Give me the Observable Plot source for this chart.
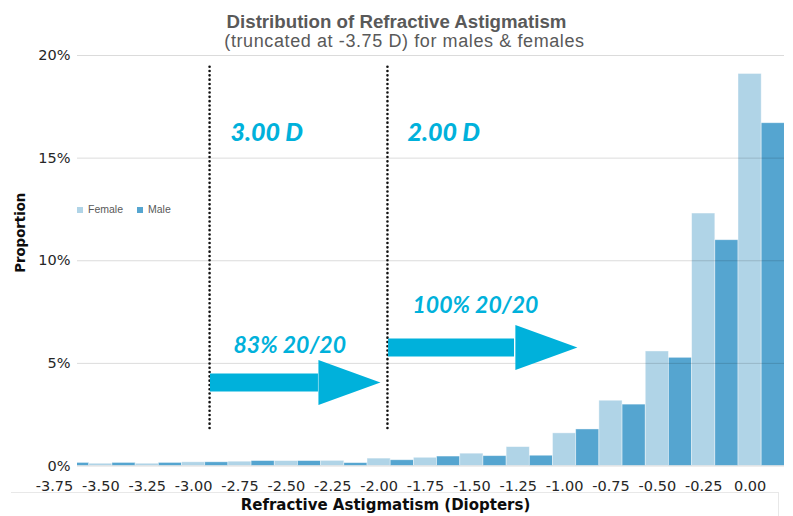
<!DOCTYPE html>
<html>
<head>
<meta charset="utf-8">
<script src="https://cdn.jsdelivr.net/npm/d3@7"></script>
<script src="https://cdn.jsdelivr.net/npm/@observablehq/plot@0.6"></script>
<style>
  body { margin: 0; background: #fff; }
  #wrap { position: relative; width: 793px; height: 516px; overflow: hidden; background: #fff; }
  #title { position: absolute; left: 0; top: 10.5px; width: 793px; text-align: center; line-height: 1;
           font: bold 18.7px "Liberation Sans", Arial, sans-serif; color: #595959; }
  #subtitle { position: absolute; left: 8px; top: 31px; width: 793px; text-align: center; line-height: 1;
           font: 18px "Liberation Sans", Arial, sans-serif; color: #595959; letter-spacing: 0.6px; }
  #legend { position: absolute; left: 77px; top: 203px; font: 10.5px "Liberation Sans", Arial, sans-serif; color: #595959; }
  #legend span.sw { display: inline-block; width: 6px; height: 6px; margin-right: 5px; vertical-align: 0px; }
  #legend span.item { margin-right: 14px; }
  #bottombox { position: absolute; left: 11px; top: 492px; width: 767px; height: 40px;
               border-top: 1px solid #e8e8e8; border-right: 1px solid #e8e8e8; }
  #chart { position: absolute; left: 0; top: 0; }
</style>
</head>
<body>
<div id="wrap">
  <div id="bottombox"></div>
  <div id="chart"></div>
  <div id="title">Distribution of Refractive Astigmatism</div>
  <div id="subtitle">(truncated at -3.75 D) for males &amp; females</div>
  <div id="legend"></div>
</div>
<script>
// ---- data (values in percent) ----
const categories = [-3.75, -3.50, -3.25, -3.00, -2.75, -2.50, -2.25, -2.00, -1.75, -1.50, -1.25, -1.00, -0.75, -0.50, -0.25, 0.00];
const female =     [null, 0.11, 0.11, 0.18, 0.21, 0.24, 0.25, 0.36, 0.40, 0.60, 0.92, 1.59, 3.18, 5.58, 12.3, 19.1];
const male =       [0.15, 0.15, 0.15, 0.18, 0.24, 0.24, 0.14, 0.28, 0.46, 0.48, 0.50, 1.78, 2.99, 5.27, 11.0, 16.7];
const xTickLabels = categories;
const yTicks = [0, 5, 10, 15, 20];
const seriesNames = ["Female", "Male"];
const seriesColors = ["#b0d4e7", "#55a5d0"];

// annotations (data units)
const dividers = [{x: -2.914, y1: 1.83, y2: 19.5}, {x: -1.955, y1: 1.83, y2: 19.5}];
const bigLabels = [{x: -2.801, y: 16.2, text: "3.00 D"}, {x: -1.847, y: 16.2, text: "2.00 D"}];
const acuityLabels = [{x: -2.785, y: 5.87, text: "83% 20/20"}, {x: -1.820, y: 7.82, text: "100% 20/20"}];
const arrows = [{x1: -2.909, base: -2.327, tip: -1.993, y: 4.07}, {x1: -1.949, base: -1.270, tip: -0.931, y: 5.77}];

const rows = [];
categories.forEach((c, i) => {
  if (female[i] != null) rows.push({cat: c, sex: "Female", value: female[i]});
  if (male[i] != null) rows.push({cat: c, sex: "Male", value: male[i]});
});

const cyan = "#00b1db";
const arrowHead = {
  draw(ctx) {
    ctx.moveTo(0, 0);
    ctx.lineTo(-62, -22.5);
    ctx.lineTo(-62, 22.5);
    ctx.closePath();
  }
};
const tickFont = "'DejaVu Sans', sans-serif";

const chart = Plot.plot({
  width: 793,
  height: 516,
  marginLeft: 77,
  marginRight: 9,
  marginTop: 55,
  marginBottom: 50.5,
  style: {background: "transparent", overflow: "visible"},
  x: {type: "linear", domain: [-3.75, 0], range: [54, 749.6], axis: null},
  y: {domain: [0, 20], axis: null},
  color: {domain: seriesNames, range: seriesColors},
  marks: [
    Plot.rectY(rows, {
      x1: d => d.cat + (d.sex === "Female" ? -0.0625 : 0.0625),
      x2: d => d.cat + (d.sex === "Female" ? 0.0625 : 0.1875),
      y1: 0,
      y2: "value",
      fill: "sex",
      stroke: "#ffffff",
      strokeOpacity: 0.5,
      strokeWidth: 0.8,
      clip: true
    }),
    Plot.gridY(yTicks, {stroke: "#000", strokeOpacity: 0.14, strokeWidth: 1}),
    Plot.axisY(yTicks, {
      tickSize: 0, tickPadding: 7, label: null,
      tickFormat: d => d + "%",
      fontSize: 14.5, fontFamily: tickFont, fill: "#262626"
    }),
    Plot.text(xTickLabels, {
      x: d => d, frameAnchor: "bottom", dy: 20.5, lineAnchor: "middle",
      text: d => d.toFixed(2),
      fontSize: 14.5, fontFamily: tickFont, fill: "#262626"
    }),
    Plot.text(["Refractive Astigmatism (Diopters)"], {
      frameAnchor: "bottom", textAnchor: "middle", dx: -45.5, dy: 39, lineAnchor: "middle",
      fontSize: 15, fontWeight: "bold", fontFamily: tickFont, fill: "#0d0d0d"
    }),
    Plot.text(["Proportion"], {
      frameAnchor: "left", textAnchor: "middle", dx: -57, dy: -28, rotate: -90, lineAnchor: "middle",
      fontSize: 13.3, fontWeight: "bold", fontFamily: tickFont, fill: "#0d0d0d"
    }),
    Plot.ruleX(dividers, {
      x: "x", y1: "y1", y2: "y2", stroke: "#111", strokeWidth: 2.6,
      strokeDasharray: "0,4.3", strokeLinecap: "round"
    }),
    Plot.ruleY(arrows, {x1: "x1", x2: "base", y: "y", stroke: cyan, strokeWidth: 18, strokeLinecap: "butt"}),
    Plot.dot(arrows, {x: "tip", y: "y", symbol: arrowHead, fill: cyan, stroke: "none", r: 5}),
    Plot.text(bigLabels, {
      x: "x", y: "y", text: "text", textAnchor: "start", lineAnchor: "middle",
      fontSize: 25, fontWeight: 900, fontStyle: "italic", fontFamily: "Lato, sans-serif", fill: cyan
    }),
    Plot.text(acuityLabels, {
      x: "x", y: "y", text: "text", textAnchor: "start", lineAnchor: "middle",
      fontSize: 23, fontWeight: "bold", fontStyle: "italic", fontFamily: "Lato, sans-serif", fill: cyan
    })
  ]
});
document.getElementById("chart").appendChild(chart);

// legend
const legend = document.getElementById("legend");
seriesNames.forEach((name, i) => {
  const item = document.createElement("span");
  item.className = "item";
  const sw = document.createElement("span");
  sw.className = "sw";
  sw.style.background = seriesColors[i];
  item.appendChild(sw);
  item.appendChild(document.createTextNode(name));
  legend.appendChild(item);
});
</script>
</body>
</html>
